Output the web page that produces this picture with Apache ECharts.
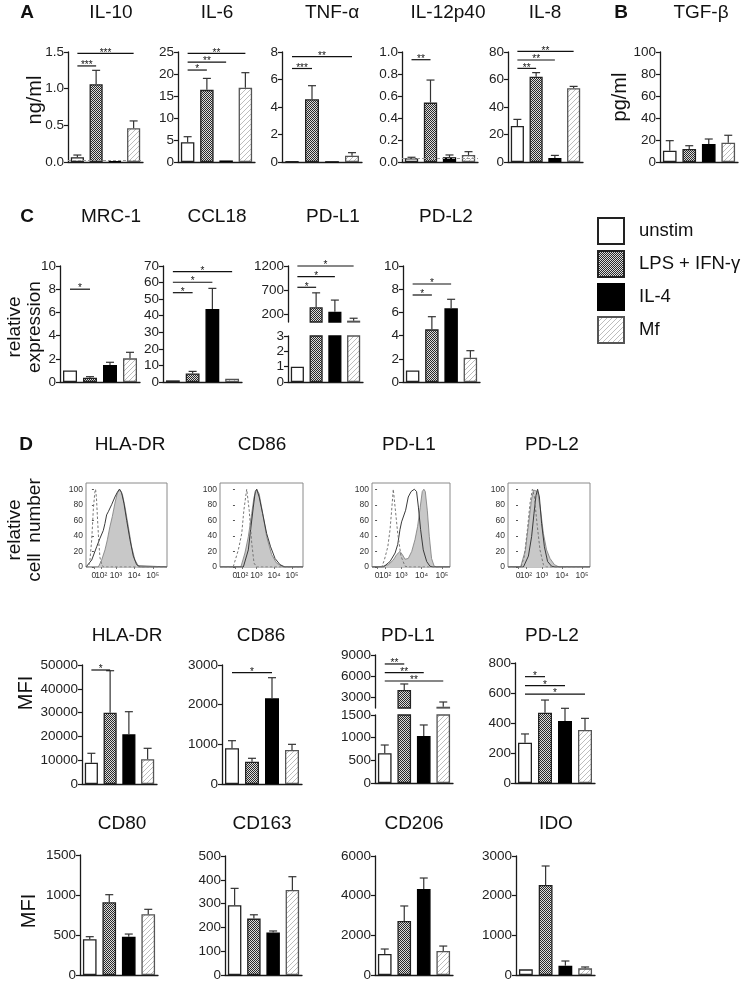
<!DOCTYPE html>
<html><head><meta charset="utf-8">
<script src="https://cdn.jsdelivr.net/npm/echarts@6/dist/echarts.min.js"></script>
<style>html,body{margin:0;padding:0;background:#fff}#c{width:750px;height:984px}</style>
</head><body><div id="c"></div>
<script>
const groups = ['unstim', 'LPS + IFN-γ', 'IL-4', 'Mf'];

// ---- Panel A (ng/ml) ----
const il10Mean = [0.064, 1.06, 0.01, 0.46];
const il10Err  = [0.095, 1.25, null, 0.56];
const il10Sig  = [[1, 1.31, '***'], [3, 1.48, '***']];
const il6Mean  = [4.5, 16.4, 0.35, 16.9];
const il6Err   = [5.75, 19.0, null, 20.3];
const il6Sig   = [[1, 20.9, '*'], [2, 22.7, '**'], [3, 24.7, '**']];
const tnfMean  = [0.05, 4.56, 0.02, 0.46];
const tnfErr   = [null, 5.55, null, 0.68];
const tnfSig   = [[1, 6.8, '***'], [3, 7.66, '**']];
const il12Mean = [0.034, 0.54, 0.043, 0.064];
const il12Err  = [0.043, 0.745, 0.064, 0.094];
const il12Sig  = [[1, 0.93, '**']];
const il8Mean  = [26.2, 62, 3.0, 53.6];
const il8Err   = [31, 65, 4.8, 55];
const il8Sig   = [[1, 68.1, '**'], [2, 74.2, '**'], [3, 80.4, '**']];
// Panel B (pg/ml)
const tgfMean  = [10.3, 11.8, 16.4, 17.5];
const tgfErr   = [19.4, 14.8, 20.9, 24.3];
const detectionLimitIL10 = 0.027;
const detectionLimitIL12 = 0.025;

// ---- Panel C (relative expression) ----
const mrcMean   = [1.0, 0.37, 1.47, 2.04];
const mrcErr    = [null, 0.46, 1.7, 2.56];
const mrcSig    = [[1, 8.0, '*']];
const ccl18Mean = [1.0, 5.2, 44, 2.0];
const ccl18Err  = [null, 6.4, 56.5, null];
const ccl18Sig  = [[1, 53.9, '*'], [2, 60.2, '*'], [3, 66.6, '*']];
const cPdl1Mean = [1.0, 344, 253, 68];
const cPdl1Err  = [null, 644, 494, 118];
const cPdl1Sig  = [[1, 759, '*'], [2, 978, '*'], [3, 1200, '*']];
const cPdl2Mean = [1.0, 4.54, 6.35, 2.1];
const cPdl2Err  = [null, 5.63, 7.13, 2.7];
const cPdl2Sig  = [[1, 7.5, '*'], [2, 8.45, '*']];

// ---- Panel D histograms: [display position, % of max] ----
const histZeroPos    = [0];
const histZeroLabel  = ['0'];
const histTickPos    = [0.4, 1.2, 2.2, 3.2];
const histTickLabels = ['10²', '10³', '10⁴', '10⁵'];
const histYTicks     = [0, 20, 40, 60, 80, 100];
const hlaIso    = [[-0.43,0],[-0.3,0],[-0.22,8],[-0.12,35],[-0.03,75],[0.05,96],[0.09,100],[0.14,88],[0.2,60],[0.27,30],[0.33,12],[0.42,4],[0.51,0],[3.97,0]];
const hlaUnstim = [[-0.43,0],[-0.36,1],[-0.12,9],[0.15,26],[0.33,37],[0.51,47],[0.6,56],[0.69,67],[0.78,71],[0.96,80],[1.14,90],[1.27,96],[1.38,100],[1.5,96],[1.63,82],[1.78,60],[1.96,35],[2.14,14],[2.32,3],[2.5,0],[3.97,0]];
const hlaStim   = [[-0.43,0],[0.24,0],[0.42,9],[0.6,22],[0.73,35],[0.87,52],[1.0,65],[1.14,82],[1.27,95],[1.41,100],[1.56,92],[1.69,77],[1.87,52],[2.05,26],[2.23,9],[2.4,2],[2.5,0],[3.97,0]];
const cd86Iso    = [[-0.84,0],[-0.1,0],[0.19,22],[0.38,43],[0.5,73],[0.66,100],[0.8,73],[0.94,31],[1.07,5],[1.22,0],[3.82,0]];
const cd86Unstim = [[-0.84,0],[0.47,0],[0.75,22],[0.88,48],[1.03,77],[1.14,97],[1.22,100],[1.36,90],[1.55,69],[1.78,43],[2.0,26],[2.25,11],[2.53,3],[2.81,0],[3.82,0]];
const cd86Stim   = [[-0.84,0],[0.33,0],[0.56,18],[0.75,39],[0.94,69],[1.07,90],[1.22,100],[1.36,94],[1.59,65],[1.78,39],[2.06,16],[2.34,5],[2.71,0],[3.82,0]];
const pdl1Iso    = [[-0.25,0],[0.23,0],[0.36,9],[0.53,26],[0.64,48],[0.72,73],[0.8,100],[0.89,77],[1.02,43],[1.18,14],[1.38,1],[1.54,0],[3.6,0]];
const pdl1Unstim = [[-0.25,0],[0.31,0],[0.64,7],[0.89,18],[1.02,29],[1.13,48],[1.21,58],[1.3,60],[1.41,73],[1.54,90],[1.68,97],[1.84,100],[1.95,97],[2.04,77],[2.15,48],[2.28,22],[2.45,7],[2.61,1],[2.77,0],[3.6,0]];
const pdl1Stim   = [[-0.25,0],[0.15,0],[0.56,3],[0.8,9],[0.97,16],[1.13,20],[1.25,16],[1.38,10],[1.54,11],[1.71,20],[1.87,35],[2.0,52],[2.13,77],[2.23,97],[2.31,100],[2.38,97],[2.48,73],[2.58,39],[2.69,11],[2.82,1],[2.94,0],[3.6,0]];
const pdl2Iso    = [[-0.5,0],[0.15,0],[0.32,14],[0.47,48],[0.6,82],[0.72,100],[0.82,90],[0.95,56],[1.1,22],[1.27,3],[1.43,0],[3.6,0]];
const pdl2Unstim = [[-0.5,0],[0.27,0],[0.52,14],[0.68,39],[0.8,69],[0.9,92],[0.98,100],[1.07,90],[1.18,56],[1.32,26],[1.48,7],[1.68,1],[1.85,0],[3.6,0]];
const pdl2Stim   = [[-0.5,0],[0.13,0],[0.37,22],[0.53,56],[0.67,86],[0.78,99],[0.85,100],[0.98,97],[1.13,73],[1.27,43],[1.43,22],[1.6,11],[1.82,3],[2.05,0],[3.6,0]];

// ---- Panel D MFI ----
const hlaMean  = [8950, 29960, 20880, 10380];
const hlaErr   = [12900, 47600, 30380, 15000];
const hlaSig   = [[1, 47900, '*']];
const cd86Mean = [900, 562, 2160, 857];
const cd86Err  = [1092, 648, 2680, 1000];
const cd86Sig  = [[2, 2808, '*']];
const dPdl1Mean = [655, 4050, 1037, 1680];
const dPdl1Err  = [838, 4900, 1280, 2350];
const dPdl1Sig  = [[1, 7730, '**'], [2, 6500, '**'], [3, 5320, '**']];
const dPdl1UpperTicks = [3000, 6000, 9000];
const dPdl2Mean = [269, 469, 413, 353];
const dPdl2Err  = [327, 553, 498, 431];
const dPdl2Sig  = [[1, 709, '*'], [2, 649, '*'], [3, 593, '*']];
const cPdl1UpperTicks = [200, 700, 1200];

// ---- Bottom row MFI ----
const cd80Mean  = [446, 909, 479, 759];
const cd80Err   = [479, 1004, 512, 821];
const cd163Mean = [293, 237, 179, 357];
const cd163Err  = [364, 253, 185, 413];
const cd206Mean = [1060, 2720, 4340, 1210];
const cd206Err  = [1310, 3480, 4890, 1460];
const idoMean   = [143, 2269, 235, 168];
const idoErr    = [null, 2748, 353, 202];

// ================= build =================
const FONT = 'Liberation Sans, Arial, Helvetica, sans-serif';
const AX = '#1a1a1a';
function makeChecker() {
  const c = document.createElement('canvas'); c.width = 2; c.height = 2;
  const x = c.getContext('2d');
  x.fillStyle = '#dcdcdc'; x.fillRect(0, 0, 2, 2);
  x.fillStyle = '#2a2a2a'; x.fillRect(0, 0, 1, 1); x.fillRect(1, 1, 1, 1);
  return c;
}
function makeHatch() {
  const c = document.createElement('canvas'); c.width = 5; c.height = 5;
  const x = c.getContext('2d');
  x.fillStyle = '#ffffff'; x.fillRect(0, 0, 5, 5);
  x.strokeStyle = '#bdbdbd'; x.lineWidth = 1;
  x.beginPath(); x.moveTo(0, 5); x.lineTo(5, 0); x.moveTo(-1, 1); x.lineTo(1, -1); x.moveTo(4, 6); x.lineTo(6, 4); x.stroke();
  return c;
}
const barStyles = [
  { color: '#ffffff', borderColor: '#222', borderWidth: 1.3 },
  { color: { image: makeChecker(), repeat: 'repeat' }, borderColor: '#222', borderWidth: 1.3 },
  { color: '#000000', borderColor: '#000', borderWidth: 1.3 },
  { color: { image: makeHatch(), repeat: 'repeat' }, borderColor: '#555', borderWidth: 1.3 }
];

const option = {
  animation: false,
  textStyle: { fontFamily: FONT },
  grid: [], xAxis: [], yAxis: [], series: [],
  legend: {
    data: groups, left: 597, top: 217, padding: 0, orient: 'vertical', icon: 'rect',
    itemWidth: 26, itemHeight: 26, itemGap: 5, selectedMode: false,
    textStyle: { fontSize: 18.5, color: '#111', fontFamily: FONT, padding: [0, 0, 0, 10] }
  },
  graphic: { elements: [] }
};

function errRender(params, api) {
  const top = api.value(1);
  if (top === null || isNaN(top)) return null;
  const x = api.value(0), v = api.value(2);
  const p0 = api.coord([x, v]), p1 = api.coord([x, top]);
  const st = { stroke: '#333', lineWidth: 1.2 };
  return { type: 'group', children: [
    { type: 'line', shape: { x1: p0[0], y1: p0[1], x2: p1[0], y2: p1[1] }, style: st },
    { type: 'line', shape: { x1: p1[0] - 4, y1: p1[1], x2: p1[0] + 4, y2: p1[1] }, style: st }
  ] };
}
function makeSigRender(sig) {
  return function (params, api) {
    const s = sig[params.dataIndex];
    const a = api.coord([0, s[1]]), b = api.coord([s[0], s[1]]);
    return { type: 'group', children: [
      { type: 'line', shape: { x1: a[0], y1: a[1], x2: b[0], y2: b[1] }, style: { stroke: '#111', lineWidth: 1.2 } },
      { type: 'text', x: (a[0] + b[0]) / 2, y: a[1] + 4.5,
        style: { text: s[2], textAlign: 'center', textVerticalAlign: 'bottom', font: '10px ' + FONT, fill: '#111' } }
    ] };
  };
}

const plain = v => String(v);

function barPanel(p) {
  option.grid.push({ left: p.left, top: p.top, width: p.width, height: p.height, outerBoundsMode: 'none' });
  const gi = option.grid.length - 1;
  option.xAxis.push({ gridIndex: gi, type: 'category', data: groups,
    axisLine: { show: p.showX !== false, lineStyle: { color: AX, width: 1.3 } },
    axisTick: { show: false }, axisLabel: { show: false } });
  const xi = option.xAxis.length - 1;
  const ya = { gridIndex: gi, type: 'value', min: p.min, max: p.max,
    axisLine: { show: true, lineStyle: { color: AX, width: 1.3 } },
    axisTick: { show: true, length: 4, lineStyle: { color: AX, width: 1.2 } },
    axisLabel: { fontSize: p.fs || 13.5, color: '#222', margin: 4, fontFamily: FONT,
      formatter: p.fmt || plain, hideOverlap: false },
    splitLine: { show: false } };
  if (p.interval) ya.interval = p.interval;
  if (p.ticks) { ya.axisLabel.customValues = p.ticks; ya.axisTick.customValues = p.ticks; }
  option.yAxis.push(ya);
  const yi = option.yAxis.length - 1;
  groups.forEach((g, k) => {
    const s = { type: 'bar', name: g, xAxisIndex: xi, yAxisIndex: yi,
      data: p.mean.map((v, i) => (i === k ? v : '-')),
      barWidth: '70%', barGap: '-100%', itemStyle: barStyles[k], clip: true, silent: true };
    if (k === 0 && p.limit != null) {
      s.markLine = { silent: true, symbol: 'none', label: { show: false },
        lineStyle: { color: '#999', type: [3, 2], width: 1 }, data: [{ yAxis: p.limit }] };
    }
    option.series.push(s);
  });
  option.series.push({ type: 'custom', xAxisIndex: xi, yAxisIndex: yi, clip: true, silent: true, z: 5,
    data: p.mean.map((v, i) => [i, p.err[i], v]), renderItem: errRender });
  if (p.sig) {
    option.series.push({ type: 'custom', xAxisIndex: xi, yAxisIndex: yi, clip: false, silent: true, z: 6,
      data: p.sig.map(s => [s[0], s[1]]), renderItem: makeSigRender(p.sig) });
  }
}

function histXAxis(gi, p, pos, labels) {
  return { gridIndex: gi, type: 'value', position: 'bottom', offset: 0, min: p.min, max: p.max,
    axisLine: { show: false }, splitLine: { show: false },
    axisTick: { show: true, length: 2, customValues: pos, lineStyle: { color: '#777' } },
    axisLabel: { fontSize: 8.5, color: '#333', margin: 4, customValues: pos,
      hideOverlap: false, showMinLabel: true, showMaxLabel: true,
      formatter: v => { const i = pos.findIndex(t => Math.abs(t - v) < 1e-6); return i >= 0 ? labels[i] : ''; } } };
}

function histPanel(p) {
  option.grid.push({ left: p.left, top: 483, width: p.width, height: 84, show: true,
    borderColor: '#8a8a8a', borderWidth: 1, outerBoundsMode: 'none' });
  const gi = option.grid.length - 1;
  option.xAxis.push(histXAxis(gi, p, histTickPos, histTickLabels));
  const xi = option.xAxis.length - 1;
  option.xAxis.push(histXAxis(gi, p, histZeroPos, histZeroLabel));
  option.yAxis.push({ gridIndex: gi, type: 'value', min: 0, max: 108,
    axisLine: { show: false }, splitLine: { show: false },
    axisTick: { show: true, length: 2, customValues: histYTicks, lineStyle: { color: '#555' } },
    axisLabel: { fontSize: 8.5, color: '#333', margin: 3, customValues: histYTicks, hideOverlap: false } });
  const yi = option.yAxis.length - 1;
  option.series.push({ type: 'line', xAxisIndex: xi, yAxisIndex: yi, data: p.stim, showSymbol: false, silent: true,
    lineStyle: { color: '#7a7a7a', width: 0.8 }, areaStyle: { color: '#c8c8c8', opacity: 1 }, z: 2 });
  option.series.push({ type: 'line', xAxisIndex: xi, yAxisIndex: yi, data: p.unstim, showSymbol: false, silent: true,
    lineStyle: { color: '#3a3a3a', width: 1 }, z: 3 });
  option.series.push({ type: 'line', xAxisIndex: xi, yAxisIndex: yi, data: p.iso, showSymbol: false, silent: true,
    lineStyle: { color: '#777', width: 1, type: [2.5, 2] }, z: 4 });
}

const f1 = v => v.toFixed(1);

// Row A
barPanel({ left: 68, top: 52, width: 75, height: 110, min: 0, max: 1.5, interval: 0.5, fmt: f1, fs: 13.5,
  mean: il10Mean, err: il10Err, sig: il10Sig, limit: detectionLimitIL10 });
barPanel({ left: 178, top: 52, width: 77, height: 110, min: 0, max: 25, interval: 5, fs: 13.5,
  mean: il6Mean, err: il6Err, sig: il6Sig });
barPanel({ left: 282, top: 52, width: 80, height: 110, min: 0, max: 8, interval: 2, fs: 13.5,
  mean: tnfMean, err: tnfErr, sig: tnfSig });
barPanel({ left: 402, top: 52, width: 76, height: 110, min: 0, max: 1.0, interval: 0.2, fmt: f1, fs: 13.5,
  mean: il12Mean, err: il12Err, sig: il12Sig, limit: detectionLimitIL12 });
barPanel({ left: 508, top: 52, width: 75, height: 110, min: 0, max: 80, interval: 20, fs: 13.5,
  mean: il8Mean, err: il8Err, sig: il8Sig });
barPanel({ left: 660, top: 52, width: 78, height: 110, min: 0, max: 100, interval: 20, fs: 13.5,
  mean: tgfMean, err: tgfErr });

// Row C
barPanel({ left: 60, top: 266, width: 80, height: 116, min: 0, max: 10, interval: 2,
  mean: mrcMean, err: mrcErr, sig: mrcSig });
barPanel({ left: 163, top: 266, width: 79, height: 116, min: 0, max: 70, interval: 10,
  mean: ccl18Mean, err: ccl18Err, sig: ccl18Sig });
barPanel({ left: 288, top: 336, width: 75, height: 46, min: 0, max: 3, interval: 1,
  mean: cPdl1Mean, err: cPdl1Err });
barPanel({ left: 288, top: 266, width: 75, height: 56, min: 40, max: 1200, ticks: cPdl1UpperTicks, showX: false,
  mean: cPdl1Mean, err: cPdl1Err, sig: cPdl1Sig });
barPanel({ left: 403, top: 266, width: 77, height: 116, min: 0, max: 10, interval: 2,
  mean: cPdl2Mean, err: cPdl2Err, sig: cPdl2Sig });

// Row D histograms
histPanel({ left: 86, width: 81, min: -0.43, max: 3.97, iso: hlaIso, unstim: hlaUnstim, stim: hlaStim });
histPanel({ left: 220, width: 83, min: -0.84, max: 3.82, iso: cd86Iso, unstim: cd86Unstim, stim: cd86Stim });
histPanel({ left: 372, width: 78, min: -0.25, max: 3.6, iso: pdl1Iso, unstim: pdl1Unstim, stim: pdl1Stim });
histPanel({ left: 508, width: 82, min: -0.5, max: 3.6, iso: pdl2Iso, unstim: pdl2Unstim, stim: pdl2Stim });

// Row D MFI
barPanel({ left: 82, top: 665, width: 75, height: 119, min: 0, max: 50000, interval: 10000,
  mean: hlaMean, err: hlaErr, sig: hlaSig });
barPanel({ left: 222, top: 665, width: 80, height: 119, min: 0, max: 3000, interval: 1000,
  mean: cd86Mean, err: cd86Err, sig: cd86Sig });
barPanel({ left: 375, top: 715, width: 78, height: 68, min: 0, max: 1500, interval: 500,
  mean: dPdl1Mean, err: dPdl1Err });
barPanel({ left: 375, top: 655, width: 78, height: 53, min: 1500, max: 9000, ticks: dPdl1UpperTicks, showX: false,
  mean: dPdl1Mean, err: dPdl1Err, sig: dPdl1Sig });
barPanel({ left: 515, top: 663, width: 80, height: 120, min: 0, max: 800, interval: 200,
  mean: dPdl2Mean, err: dPdl2Err, sig: dPdl2Sig });

// Row E
barPanel({ left: 80, top: 855, width: 78, height: 120, min: 0, max: 1500, interval: 500, mean: cd80Mean, err: cd80Err });
barPanel({ left: 225, top: 856, width: 77, height: 119, min: 0, max: 500, interval: 100, mean: cd163Mean, err: cd163Err });
barPanel({ left: 375, top: 856, width: 78, height: 119, min: 0, max: 6000, interval: 2000, mean: cd206Mean, err: cd206Err });
barPanel({ left: 516, top: 856, width: 79, height: 119, min: 0, max: 3000, interval: 1000, mean: idoMean, err: idoErr });

// Texts
function txt(t, x, y, size, opts) {
  opts = opts || {};
  option.graphic.elements.push({ type: 'text', x: x, y: y, rotation: opts.rot || 0, silent: true,
    style: { text: t, textAlign: 'center', textVerticalAlign: 'middle',
      font: (opts.bold ? 'bold ' : '') + size + 'px ' + FONT, fill: '#111', lineHeight: opts.lh || size } });
}
const R = Math.PI / 2;
txt('A', 27, 13, 19, { bold: true });
txt('IL-10', 111, 13, 19); txt('IL-6', 217, 13, 19); txt('TNF-α', 332, 13, 19);
txt('IL-12p40', 448, 13, 19); txt('IL-8', 545, 13, 19);
txt('B', 621, 13, 19, { bold: true }); txt('TGF-β', 701, 13, 19);
txt('ng/ml', 35, 100, 20, { rot: R }); txt('pg/ml', 620, 97, 20, { rot: R });
txt('C', 27, 217, 19, { bold: true });
txt('MRC-1', 111, 217, 19); txt('CCL18', 217, 217, 19); txt('PD-L1', 333, 217, 19); txt('PD-L2', 446, 217, 19);
txt('relative\nexpression', 25, 327, 19, { rot: R, lh: 20 });
txt('D', 26, 445, 19, { bold: true });
txt('HLA-DR', 130, 445, 19); txt('CD86', 262, 445, 19); txt('PD-L1', 409, 445, 19); txt('PD-L2', 552, 445, 19);
txt('relative\ncell  number', 25, 530, 19, { rot: R, lh: 20 });
txt('HLA-DR', 127, 636, 19); txt('CD86', 261, 636, 19); txt('PD-L1', 408, 636, 19); txt('PD-L2', 552, 636, 19);
txt('MFI', 26, 693, 20, { rot: R });
txt('CD80', 122, 824, 19); txt('CD163', 262, 824, 19); txt('CD206', 414, 824, 19); txt('IDO', 556, 824, 19);
txt('MFI', 29, 911, 20, { rot: R });

const chart = echarts.init(document.getElementById('c'), null, { renderer: 'canvas' });
chart.setOption(option);
</script>
</body></html>
